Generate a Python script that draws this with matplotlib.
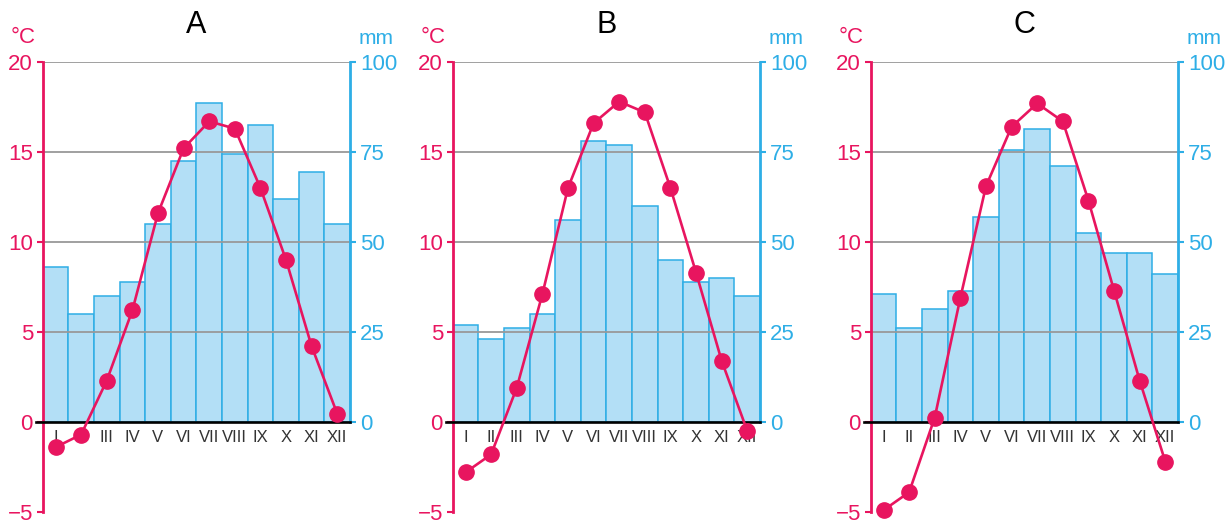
import matplotlib.pyplot as plt

months = ["I", "II", "III", "IV", "V", "VI", "VII", "VIII", "IX", "X", "XI", "XII"]
titles = ["A", "B", "C"]

# precipitation in mm
precip_a = [43, 30, 35, 39, 55, 72.5, 88.5, 74.5, 82.5, 62, 69.5, 55]
precip_b = [27, 23, 26, 30, 56, 78, 77, 60, 45, 39, 40, 35]
precip_c = [35.5, 26, 31.5, 36.5, 57, 75.5, 81.5, 71, 52.5, 47, 47, 41]

# temperature in C
temp_a = [-1.4, -0.7, 2.3, 6.2, 11.6, 15.2, 16.7, 16.3, 13.0, 9.0, 4.2, 0.45]
temp_b = [-2.8, -1.8, 1.9, 7.1, 13.0, 16.6, 17.8, 17.2, 13.0, 8.3, 3.4, -0.5]
temp_c = [-4.9, -3.9, 0.25, 6.9, 13.1, 16.4, 17.7, 16.7, 12.3, 7.3, 2.3, -2.2]

precips = [precip_a, precip_b, precip_c]
temps = [temp_a, temp_b, temp_c]

pink = "#e8155f"
blue = "#2eaee6"
bar_fill = "#b3dff6"
fnt = ["Liberation Sans Narrow", "Liberation Sans", "DejaVu Sans"]

W, H = 1228, 524
lefts = [42.7, 452.7, 870.7]

fig = plt.figure(figsize=(12.28, 5.24), dpi=100)

for k in range(3):
    ax = fig.add_axes([lefts[k] / W, 12 / H, 307.4 / W, 450 / H])
    ax2 = ax.twinx()
    ax.set_zorder(ax2.get_zorder() + 1)
    ax.patch.set_visible(False)

    x = range(len(months))

    # bars on the mm axis
    ax2.bar(x, precips[k], width=1.0, color=bar_fill, edgecolor=blue, linewidth=1.1, zorder=1)
    for v in [25, 50, 75, 100]:
        ax2.axhline(v, color="#999999", lw=1.3, zorder=2)
    ax2.set_ylim(-25, 100)
    ax2.set_yticks([0, 25, 50, 75, 100])
    ax2.set_yticklabels(["0", "25", "50", "75", "100"], family=fnt, fontsize=16, color=blue)
    ax2.tick_params(axis="y", colors=blue, length=4, width=1.5, pad=3)
    for s in ["top", "bottom", "left"]:
        ax2.spines[s].set_visible(False)
    ax2.spines["right"].set_color(blue)
    ax2.spines["right"].set_linewidth(2)
    ax2.spines["right"].set_bounds(0, 100)

    # temperature
    ax.plot(x, temps[k], color=pink, lw=1.9, marker="o", markersize=11, zorder=5, clip_on=False)
    ax.axhline(0, xmin=-0.022, xmax=1, color="black", lw=1.9, zorder=4, clip_on=False)
    ax.set_xlim(-0.5, 11.5)
    ax.set_ylim(-5, 20)
    ax.set_yticks([-5, 0, 5, 10, 15, 20])
    ax.set_yticklabels(["\u22125", "0", "5", "10", "15", "20"], family=fnt, fontsize=16, color=pink)
    ax.tick_params(axis="y", colors=pink, length=4, width=1.5, pad=3)
    ax.set_xticks([])
    for s in ["top", "bottom", "right"]:
        ax.spines[s].set_visible(False)
    ax.spines["left"].set_color(pink)
    ax.spines["left"].set_linewidth(2)
    ax.spines["left"].set_bounds(-5, 20)

    for i, m in enumerate(months):
        ax.text(i, -0.45, m, ha="center", va="top", fontsize=12, family=fnt, color="#333333", zorder=3)

    ax.text(-0.065, 1.03, "\u00b0C", transform=ax.transAxes, ha="center", va="bottom",
            fontsize=16, family=fnt, color=pink)
    ax.text(1.085, 1.03, "mm", transform=ax.transAxes, ha="center", va="bottom",
            fontsize=15, family=fnt, color=blue)
    ax.set_title(titles[k], fontsize=22, family=["Liberation Sans", "DejaVu Sans"], pad=21)

fig.savefig("out.png", dpi=100)
